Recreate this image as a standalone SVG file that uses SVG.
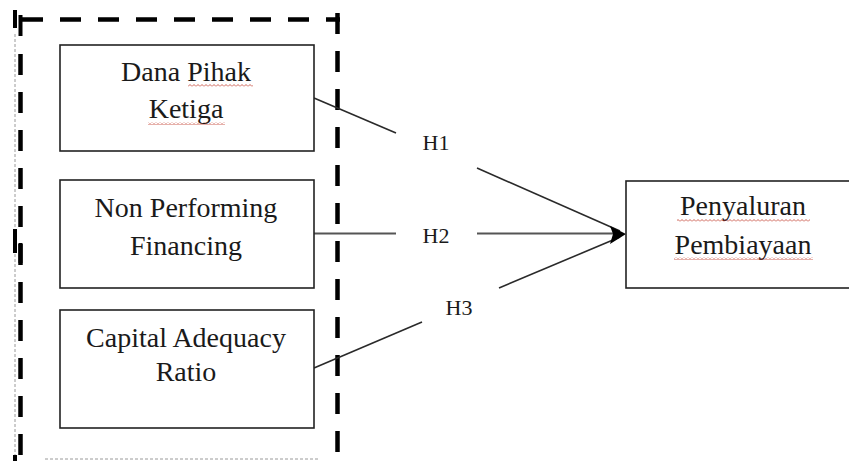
<svg xmlns="http://www.w3.org/2000/svg" width="849" height="461" viewBox="0 0 849 461">
  <style>
    .box { fill: #ffffff; stroke: #222222; stroke-width: 1.6; }
    .lbl { font-family: 'Liberation Serif', Tinos, 'Times New Roman', 'DejaVu Serif', 'Noto Serif', serif; font-size: 28px; fill: #1a1a1a; text-anchor: middle; }
    .h { font-family: 'Liberation Serif', Tinos, 'Times New Roman', 'DejaVu Serif', 'Noto Serif', serif; font-size: 22px; fill: #1a1a1a; text-anchor: middle; }
    .conn { stroke: #2a2a2a; stroke-width: 1.6; fill: none; }
    .conn2 { stroke: #555555; stroke-width: 2; fill: none; }
    .dash { stroke: #000000; stroke-width: 4.5; fill: none; stroke-dasharray: 21 17; }
    .faint { stroke: #9a9a9a; stroke-width: 1; fill: none; stroke-dasharray: 3 2; }
  </style>
  <defs>
    <pattern id="wavy" patternUnits="userSpaceOnUse" width="4" height="3">
      <path d="M0 2.5 L2 0.5 L4 2.5" stroke="#c0392b" stroke-width="0.8" fill="none"/>
    </pattern>
  </defs>
  <rect width="849" height="461" fill="#ffffff"/>

  <g id="group-border">
    <line class="faint" x1="15" y1="34" x2="15" y2="461"/>
    <line class="faint" x1="45" y1="459" x2="318" y2="459"/>
    <line class="dash" x1="22" y1="19.5" x2="340" y2="19.5"/>
    <line class="dash" x1="20.5" y1="54" x2="20.5" y2="461"/>
    <line class="dash" x1="337.5" y1="13" x2="337.5" y2="461"/>
    <path d="M15 10 V28 M20.5 15 V36" stroke="#000" stroke-width="4" fill="none"/>
    <path d="M15 229 V253 M20.5 243 V263" stroke="#000" stroke-width="4" fill="none"/>
    <path d="M15 455 V461" stroke="#000" stroke-width="4" fill="none"/>
  </g>

  <g id="connectors">
    <line class="conn" x1="314" y1="98" x2="396" y2="133"/>
    <line class="conn" x1="477" y1="168" x2="620" y2="231"/>
    <line class="conn2" x1="314" y1="233.5" x2="396" y2="233.5"/>
    <line class="conn2" x1="477" y1="233.5" x2="614" y2="233.5"/>
    <line class="conn" x1="314" y1="368" x2="422" y2="322"/>
    <line class="conn" x1="499" y1="288" x2="620" y2="237"/>
    <polygon points="626,234 610,226 613,234 610,244" fill="#000"/>
    <text class="h" x="436" y="150">H1</text>
    <text class="h" x="436" y="243">H2</text>
    <text class="h" x="459" y="315">H3</text>
  </g>

  <g id="node-dpk">
    <rect class="box" x="60" y="45" width="254" height="106"/>
    <text class="lbl" x="186" y="81">Dana Pihak</text>
    <text class="lbl" x="186" y="118">Ketiga</text>
    <rect x="188" y="84" width="65" height="3" fill="url(#wavy)"/>
    <rect x="148" y="122" width="77" height="3" fill="url(#wavy)"/>
  </g>

  <g id="node-npf">
    <rect class="box" x="60" y="180" width="254" height="108"/>
    <text class="lbl" x="186" y="217">Non Performing</text>
    <text class="lbl" x="186" y="255">Financing</text>
  </g>

  <g id="node-car">
    <rect class="box" x="60" y="310" width="254" height="118"/>
    <text class="lbl" x="186" y="347">Capital Adequacy</text>
    <text class="lbl" x="186" y="381">Ratio</text>
  </g>

  <g id="node-pp">
    <rect class="box" x="626" y="181" width="240" height="107"/>
    <text class="lbl" x="743" y="215">Penyaluran</text>
    <text class="lbl" x="743" y="254">Pembiayaan</text>
    <rect x="677" y="219" width="133" height="3" fill="url(#wavy)"/>
    <rect x="674" y="257" width="139" height="3" fill="url(#wavy)"/>
  </g>
</svg>
